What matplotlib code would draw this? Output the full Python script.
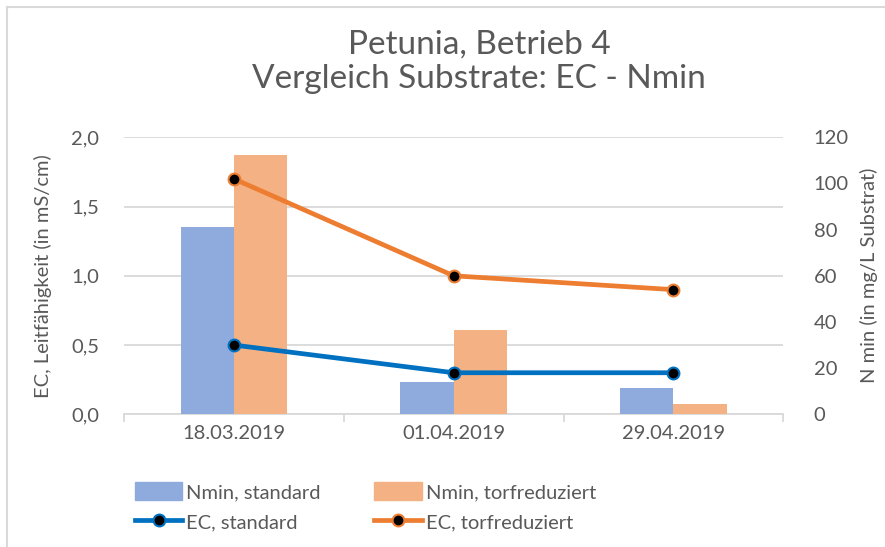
import matplotlib
matplotlib.use("Agg")
import matplotlib.pyplot as plt
from matplotlib.lines import Line2D
from matplotlib.patches import Patch
import numpy as np

plt.rcParams['font.family'] = ['Lato', 'DejaVu Sans']

dates = ["18.03.2019", "01.04.2019", "29.04.2019"]
nmin_standard = [81.3, 14.0, 11.4]
nmin_torf = [112.2, 36.4, 4.5]
ec_standard = [0.5, 0.3, 0.3]
ec_torf = [1.7, 1.0, 0.9]
left_ticks = [0.0, 0.5, 1.0, 1.5, 2.0]
left_ticklabels = ["0,0", "0,5", "1,0", "1,5", "2,0"]
right_ticks = [0, 20, 40, 60, 80, 100, 120]

TXT = "#595959"
GRID = "#d9d9d9"
C_BAR_STD = "#8faadc"
C_BAR_TORF = "#f4b183"
C_LINE_STD = "#0070c0"
C_LINE_TORF = "#ed7d31"

W, H = 885, 547
fig = plt.figure(figsize=(W / 100, H / 100), dpi=100)

# frame lines (left and top)
fig.add_artist(Line2D([7 / W, 7 / W], [0, 1 - 7 / H], color=GRID, lw=1.5, transform=fig.transFigure))
fig.add_artist(Line2D([7 / W, 1], [1 - 7 / H, 1 - 7 / H], color=GRID, lw=1.5, transform=fig.transFigure))

ax = fig.add_axes([124 / W, (H - 414.3) / H, (783.3 - 124) / W, (414.3 - 137.3) / H])
x = np.arange(len(dates))

# base axis: EC scale with grid
ax.set_xlim(-0.5, len(dates) - 0.5)
ax.set_ylim(0, 2.0)
ax.set_yticks(left_ticks)
ax.set_yticklabels(left_ticklabels)
ax.yaxis.grid(True, color=GRID, lw=1.3)
ax.set_axisbelow(True)
for s in ["top", "right", "left"]:
    ax.spines[s].set_visible(False)
ax.spines["bottom"].set_color(GRID)
ax.spines["bottom"].set_linewidth(1.3)
ax.tick_params(axis="y", length=0, labelsize=14.5, labelcolor=TXT, pad=18)
ax.set_xticks(x)
ax.set_xticklabels(dates)
ax.tick_params(axis="x", which="major", length=0, labelsize=14.5, labelcolor=TXT, pad=8)
ax.set_xticks(np.arange(-0.5, len(dates), 1.0), minor=True)
ax.tick_params(axis="x", which="minor", length=6, color=GRID, width=1.3)
ax.set_ylabel("EC, Leitfähigkeit (in mS/cm)", fontsize=14.5, color=TXT, labelpad=14)

# bars on Nmin scale
axb = ax.twinx()
axb.set_ylim(0, 120)
axb.set_yticks(right_ticks)
bw = 0.242
axb.bar(x - bw / 2, nmin_standard, width=bw, color=C_BAR_STD, label="Nmin, standard")
axb.bar(x + bw / 2, nmin_torf, width=bw, color=C_BAR_TORF, label="Nmin, torfreduziert")
for s in axb.spines.values():
    s.set_visible(False)
axb.tick_params(axis="y", length=0, labelsize=14.5, labelcolor=TXT, pad=22)
axb.set_ylabel("N min (in mg/L Substrat)", fontsize=14.5, color=TXT, labelpad=8)

# lines on EC scale
axl = ax.twinx()
axl.set_ylim(0, 2.0)
axl.set_yticks([])
for s in axl.spines.values():
    s.set_visible(False)
axl.plot(x, ec_standard, color=C_LINE_STD, lw=3.4, marker="o", ms=8.5,
         mfc="black", mec=C_LINE_STD, mew=1.5, label="EC, standard", solid_capstyle="round")
axl.plot(x, ec_torf, color=C_LINE_TORF, lw=3.4, marker="o", ms=8.5,
         mfc="black", mec=C_LINE_TORF, mew=1.5, label="EC, torfreduziert", solid_capstyle="round")

fig.text(479 / W, 1 - 62 / H, "Petunia, Betrieb 4\nVergleich Substrate: EC - Nmin", fontsize=24,
         color=TXT, ha="center", va="center", linespacing=1.2)

handles = [
    Patch(color=C_BAR_STD), Line2D([], [], color=C_LINE_STD, lw=3.4, marker="o", ms=8.5, mfc="black", mec=C_LINE_STD, mew=1.5),
    Patch(color=C_BAR_TORF), Line2D([], [], color=C_LINE_TORF, lw=3.4, marker="o", ms=8.5, mfc="black", mec=C_LINE_TORF, mew=1.5),
]
labels = ["Nmin, standard", "EC, standard", "Nmin, torfreduziert", "EC, torfreduziert"]
leg = fig.legend(handles, labels, ncol=2, loc="upper left", bbox_to_anchor=(127 / W, 1 - 474 / H),
                 frameon=False, fontsize=14.5, labelcolor=TXT, handlelength=2.35, handleheight=1.0,
                 handletextpad=0.2, columnspacing=2.65, borderaxespad=0, labelspacing=0.55)

fig.savefig("out.png", dpi=100)
